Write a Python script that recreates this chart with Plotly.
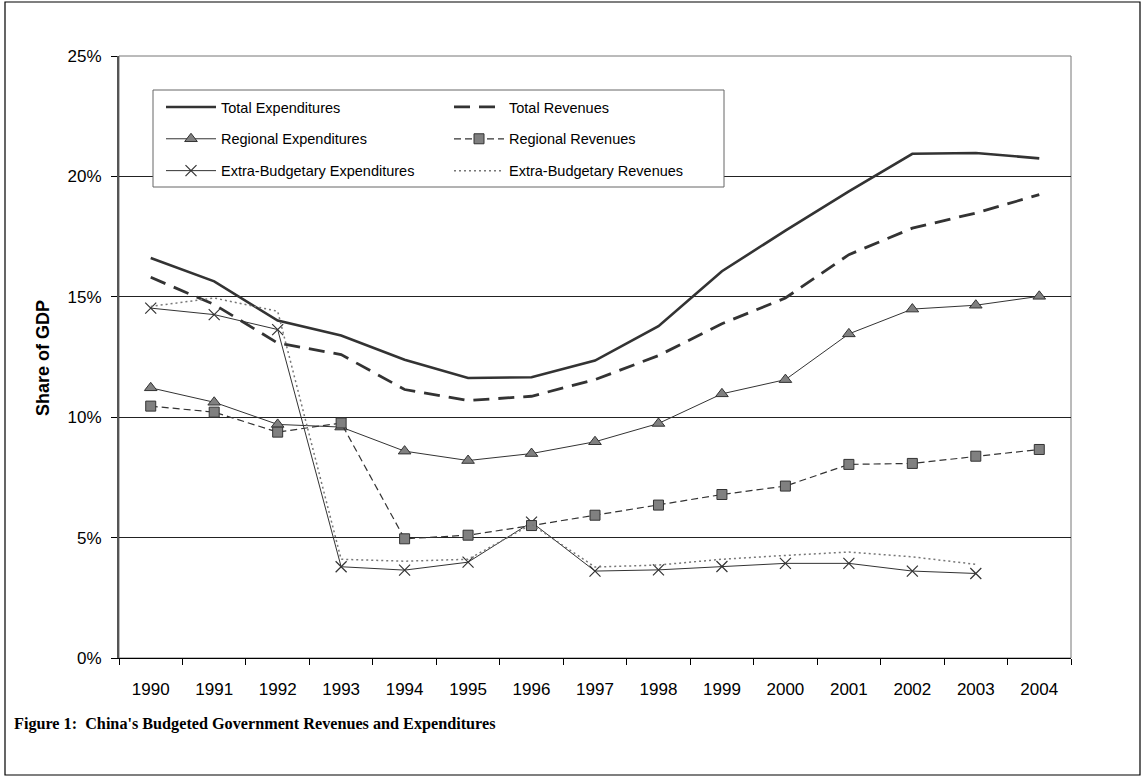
import plotly.graph_objects as go

years = ["1990", "1991", "1992", "1993", "1994", "1995", "1996", "1997",
         "1998", "1999", "2000", "2001", "2002", "2003", "2004"]

total_exp = [16.61, 15.64, 14.01, 13.39, 12.39, 11.63, 11.66, 12.35,
             13.78, 16.06, 17.75, 19.38, 20.94, 20.97, 20.75]
total_rev = [15.81, 14.68, 13.08, 12.60, 11.15, 10.69, 10.87, 11.56,
             12.56, 13.88, 14.95, 16.75, 17.85, 18.48, 19.24]
regional_exp = [11.22, 10.62, 9.70, 9.59, 8.59, 8.20, 8.49, 8.98,
                9.74, 10.97, 11.56, 13.46, 14.49, 14.65, 15.02]
regional_rev = [10.46, 10.21, 9.38, 9.76, 4.95, 5.10, 5.50, 5.93,
                6.35, 6.79, 7.14, 8.04, 8.08, 8.38, 8.66]
extra_exp = [14.53, 14.26, 13.64, 3.79, 3.65, 3.98, 5.64, 3.61,
             3.66, 3.80, 3.93, 3.93, 3.61, 3.51, None]
extra_rev = [14.60, 14.95, 14.40, 4.10, 4.02, 4.10, 5.55, 3.78,
             3.86, 4.10, 4.26, 4.40, 4.20, 3.89, None]

W, H = 1143, 778
L, R, T, B = 119, 1071, 56, 658


def px(x):
    return (x - L) / (R - L)


def py(y):
    return (B - y) / (B - T)


FONT = "Liberation Sans, Arial, sans-serif"
DARK = "#333333"
GRAY = "#808080"

fig = go.Figure()

fig.add_trace(go.Scatter(
    x=years, y=total_exp, name="Total Expenditures", mode="lines",
    line=dict(color=DARK, width=2.6), legend="legend", legendgroup="a"))
fig.add_trace(go.Scatter(
    x=years, y=regional_exp, name="Regional Expenditures", mode="lines+markers",
    line=dict(color=DARK, width=1),
    marker=dict(symbol="triangle-up", size=11, color=GRAY,
                line=dict(color=DARK, width=1)),
    legend="legend", legendgroup="b"))
fig.add_trace(go.Scatter(
    x=years, y=extra_exp, name="Extra-Budgetary Expenditures", mode="lines+markers",
    line=dict(color=DARK, width=1),
    marker=dict(symbol="x-thin-open", size=11, color=DARK,
                line=dict(color=DARK, width=1.2)),
    legend="legend", legendgroup="c"))
fig.add_trace(go.Scatter(
    x=years, y=total_rev, name="Total Revenues", mode="lines",
    line=dict(color=DARK, width=2.8, dash="16px,9px"),
    legend="legend2", legendgroup="d"))
fig.add_trace(go.Scatter(
    x=years, y=regional_rev, name="Regional Revenues", mode="lines+markers",
    line=dict(color=DARK, width=1.2, dash="7px,4px"),
    marker=dict(symbol="square", size=10, color=GRAY,
                line=dict(color=DARK, width=1)),
    legend="legend2", legendgroup="e"))
fig.add_trace(go.Scatter(
    x=years, y=extra_rev, name="Extra-Budgetary Revenues", mode="lines",
    line=dict(color="#777777", width=1.5, dash="2px,3px"),
    legend="legend2", legendgroup="f"))

shapes = [
    # outer figure border
    dict(type="rect", xref="paper", yref="paper",
         x0=px(5), x1=px(1140), y0=py(775), y1=py(2),
         line=dict(color="black", width=1.2), fillcolor="rgba(0,0,0,0)",
         layer="below"),
    # plot area border
    dict(type="rect", xref="paper", yref="paper",
         x0=0, x1=1, y0=0, y1=1,
         line=dict(color="#777777", width=1), fillcolor="rgba(0,0,0,0)",
         layer="below"),
    # legend box
    dict(type="rect", xref="paper", yref="paper",
         x0=px(153), x1=px(724), y0=py(187), y1=py(90),
         line=dict(color="#666666", width=1), fillcolor="white",
         layer="above"),
]

legend_common = dict(
    orientation="v", xanchor="left", yanchor="top",
    bgcolor="rgba(0,0,0,0)", borderwidth=0,
    font=dict(family=FONT, size=14.5, color="black"),
    traceorder="grouped", tracegroupgap=10, itemclick=False,
    itemwidth=50,
)

fig.update_layout(
    width=W, height=H,
    margin=dict(l=L, r=W - R, t=T, b=H - B),
    paper_bgcolor="white", plot_bgcolor="white",
    font=dict(family=FONT, color="black"),
    showlegend=True,
    legend=dict(x=px(161), y=py(91), **legend_common),
    legend2=dict(x=px(449), y=py(91), **legend_common),
    shapes=shapes,
    xaxis=dict(
        type="category", range=[-0.5, 14.5], tickson="boundaries",
        ticks="outside", ticklen=6,
        tickcolor="black", showgrid=False, showline=True, linecolor="black",
        linewidth=1, tickfont=dict(family=FONT, size=17, color="black"),
        ticklabelstandoff=16, zeroline=False,
    ),
    yaxis=dict(
        range=[0, 25], dtick=5, ticksuffix="%", ticks="outside", ticklen=6,
        tickcolor="black", showgrid=True, gridcolor="#222222", gridwidth=1,
        showline=True, linecolor="#555555", linewidth=2, zeroline=False,
        tickfont=dict(family=FONT, size=17, color="black"),
        ticklabelstandoff=6,
    ),
    annotations=[
        dict(text="<b>Share of GDP</b>", textangle=-90, xref="paper", yref="paper",
             x=px(43), y=py(358), xanchor="center", yanchor="middle",
             showarrow=False, font=dict(family=FONT, size=18, color="black")),
        dict(text="<b>Figure 1:  China's Budgeted Government Revenues and Expenditures</b>",
             xref="paper", yref="paper", x=px(12), y=py(724),
             xanchor="left", yanchor="middle", showarrow=False,
             font=dict(family="Liberation Serif, Times New Roman, serif", size=16.2,
                       color="black")),
    ],
)

fig.write_html("out.html")
